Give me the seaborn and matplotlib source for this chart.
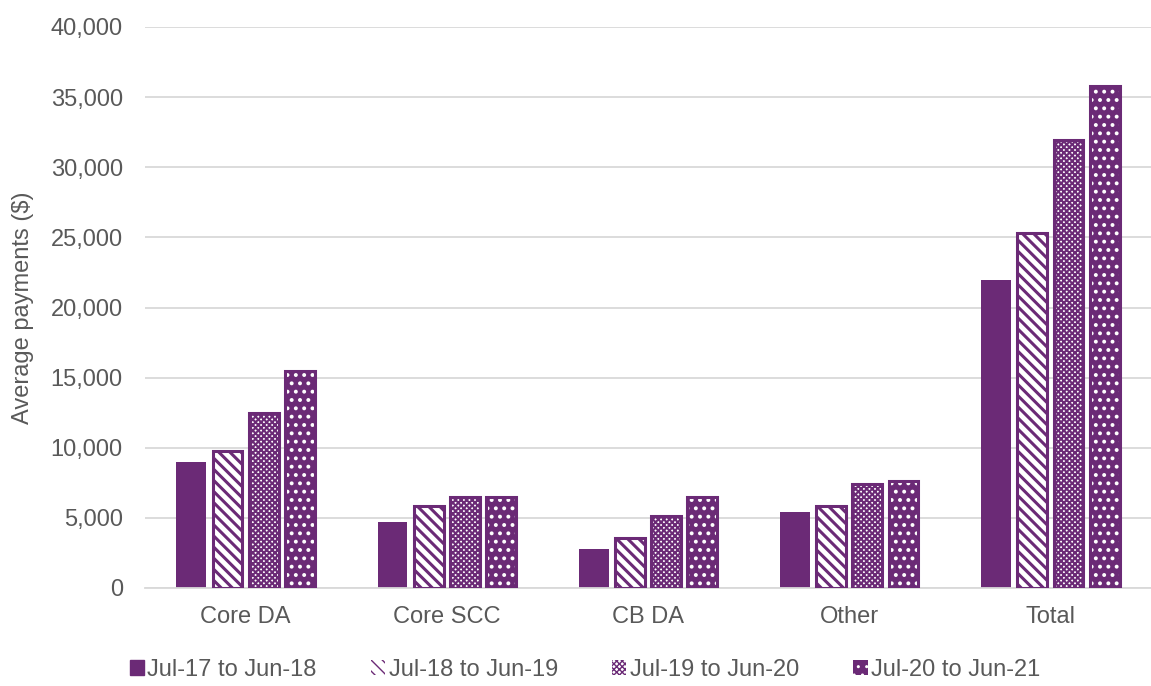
import numpy as np
import pandas as pd
import matplotlib
matplotlib.use("Agg")
import matplotlib.pyplot as plt
import seaborn as sns
from matplotlib.patches import Rectangle, Patch
from matplotlib.ticker import FuncFormatter

# Chart data
categories = ["Core DA", "Core SCC", "CB DA", "Other", "Total"]
periods = ["Jul-17 to Jun-18", "Jul-18 to Jun-19", "Jul-19 to Jun-20", "Jul-20 to Jun-21"]
vals_1718 = [9000, 4700, 2750, 5400, 21950]
vals_1819 = [9800, 5850, 3600, 5850, 25300]
vals_1920 = [12500, 6500, 5150, 7400, 31950]
vals_2021 = [15450, 6500, 6500, 7600, 35800]

PURPLE = "#6B2A76"
TEXT = "#595959"
GRID = "#D9D9D9"
FS = 17

df = pd.DataFrame({
    "category": categories * 4,
    "period": np.repeat(periods, len(categories)),
    "value": vals_1718 + vals_1819 + vals_1920 + vals_2021,
})

sns.set_theme(style="white")
plt.rcParams["font.family"] = ["Liberation Sans", "DejaVu Sans"]

fig = plt.figure(figsize=(11.51, 6.86), dpi=100)
ax = fig.add_axes([145 / 1151, 1 - 588 / 686, 1 - 145 / 1151, (588 - 27) / 686])

sns.barplot(data=df, x="category", y="value", hue="period", order=categories,
            hue_order=periods, palette=[PURPLE] * 4, saturation=1, width=0.72,
            gap=0.18, legend=False, ax=ax, zorder=2)

# styles per series: (face, hatch, hatch colour, hatch linewidth)
styles = [
    (PURPLE, None, PURPLE, 1.0),
    ("white", "\\\\\\", PURPLE, 2.2),
    ("white", "xxxxxx", PURPLE, 1.5),
    (PURPLE, "..", "white", 1.6),
]


def style_patch(p, face, hatch, hcol, hlw):
    p.set_facecolor(face)
    p.set_linewidth(0)
    if hatch:
        p.set_hatch(hatch)
        p.set_edgecolor(hcol)
        if hasattr(p, "set_hatch_linewidth"):
            p.set_hatch_linewidth(hlw)


n = len(categories)
for i, patch in enumerate(ax.patches[: n * 4]):
    face, hatch, hcol, hlw = styles[i // n]
    style_patch(patch, face, hatch, hcol, hlw)
    if hatch:
        x, y = patch.get_xy()
        ax.add_patch(Rectangle((x, y), patch.get_width(), patch.get_height(),
                               fill=False, edgecolor=PURPLE, linewidth=2.2, zorder=3))

ax.set_ylim(0, 40000)
ax.set_xlim(-0.5, 4.5)
ax.yaxis.set_major_locator(plt.MultipleLocator(5000))
ax.yaxis.set_major_formatter(FuncFormatter(lambda v, p: f"{int(v):,}"))
ax.grid(axis="y", color=GRID, linewidth=1.3, zorder=0)
ax.set_axisbelow(True)
for side in ["top", "right", "left"]:
    ax.spines[side].set_visible(False)
ax.spines["bottom"].set_color(GRID)
ax.spines["bottom"].set_linewidth(1.3)

ax.tick_params(axis="both", length=0, labelsize=FS, colors=TEXT)
ax.tick_params(axis="y", pad=16)
ax.tick_params(axis="x", pad=13)
ax.set_xlabel("")
ax.set_ylabel("Average payments ($)", fontsize=FS, color=TEXT, labelpad=12)

handles = []
for face, hatch, hcol, hlw in styles:
    h = Patch(facecolor=face, edgecolor=PURPLE, linewidth=1.0)
    if hatch:
        h.set_hatch(hatch)
        h.set_edgecolor(hcol)
        h.set_linewidth(0)
        if hasattr(h, "set_hatch_linewidth"):
            h.set_hatch_linewidth(hlw)
    handles.append(h)
leg = fig.legend(handles, periods, loc="center", bbox_to_anchor=(585 / 1151, 1 - 670 / 686),
                 ncol=4, frameon=False, fontsize=FS, handlelength=0.6, handleheight=0.6,
                 handletextpad=0.15, columnspacing=2.3, labelcolor=TEXT)

fig.savefig("out.png", dpi=100)
